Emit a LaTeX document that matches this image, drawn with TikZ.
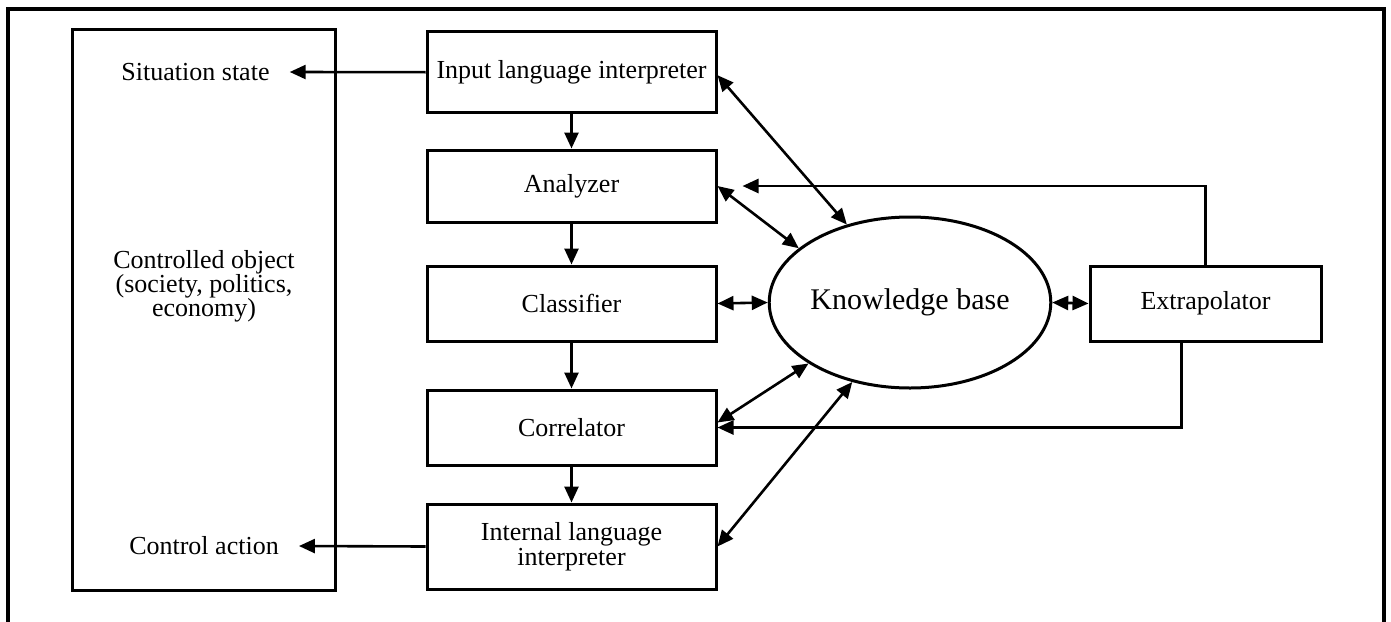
\documentclass[tikz,border=0pt]{standalone}
\usepackage{fontspec}
\setmainfont{Liberation Serif}
\usetikzlibrary{arrows.meta,shapes.geometric}

\tikzset{
  boxnode/.style={draw, line width=3pt, minimum width=289pt, inner sep=0pt,
    align=center, font=\fontsize{26}{25}\selectfont},
  lbl/.style={inner sep=0pt, inner xsep=20pt, align=center, font=\fontsize{26}{24}\selectfont},
  conn/.style={line width=2.6pt},
  tip/.tip={Triangle[length=16pt,width=14pt]},
  arr/.style={conn, -tip},
  darr/.style={conn, tip-tip},
}

\begin{document}
\begin{tikzpicture}[x=1pt,y=-1pt]
\useasboundingbox (0,0) rectangle (1391,621);

% outer frame (open at the bottom)
\draw[line width=3.5pt] (8,630) -- (8,9) -- (1384,9) -- (1384,630);

% controlled object column
\node[draw, line width=3pt, minimum width=263pt, minimum height=561pt, inner sep=0pt]
  (obj) at (203.5,309.5) {};
\node[lbl] (objtxt) at (204,286) {Controlled object\\(society, politics,\\economy)};
\node[lbl] (sit) at (195.5,72) {Situation state};
\node[lbl] (act) at (204,546) {Control action};

% processing chain
\node[boxnode, minimum height=81pt] (inp) at (571.5,72.2) {Input language interpreter};
\node[boxnode, minimum height=72pt] (ana) at (571.5,186) {Analyzer};
\node[boxnode, minimum height=75pt] (cls) at (571.5,303.5) {Classifier};
\node[boxnode, minimum height=75pt] (cor) at (571.5,427.5) {Correlator};
\node[boxnode, minimum height=85pt] (int) at (571.5,546.5) {Internal language\\interpreter};

% knowledge base and extrapolator
\node[draw, ellipse, line width=3pt, minimum width=270pt, minimum height=171pt, inner sep=0pt,
  font=\fontsize{30}{30}\selectfont] (kb) at (910,302.5) {Knowledge base};
\node[boxnode, minimum width=231pt, minimum height=75pt] (ext) at (1205.5,303.5) {Extrapolator};

% chain arrows
\draw[arr] (inp) -- (ana);
\draw[arr] (ana) -- (cls);
\draw[arr] (cls) -- (cor);
\draw[arr] (cor) -- (int);

% outputs to the controlled object
\draw[arr] (inp.west) -- (sit.east);
\draw[arr] (int.west) -- (act.east);

% links with the knowledge base
\draw[darr] ([yshift=-3pt]inp.east) -- (kb.129);
\draw[darr] (ana.east) -- (kb.154);
\draw[darr] (cls.east) -- (kb.west);
\draw[darr] ([yshift=5pt]cor.east) -- (kb.211);
\draw[darr] (int.east) -- (kb.234);
\draw[darr] (kb.east) -- (ext.west);

% extrapolator feedback
\draw[arr, shorten >=25pt] (ext.north) |- (ana.east);
\draw[arr] ([xshift=-24pt]ext.south) |- (cor.east);
\end{tikzpicture}
\end{document}
